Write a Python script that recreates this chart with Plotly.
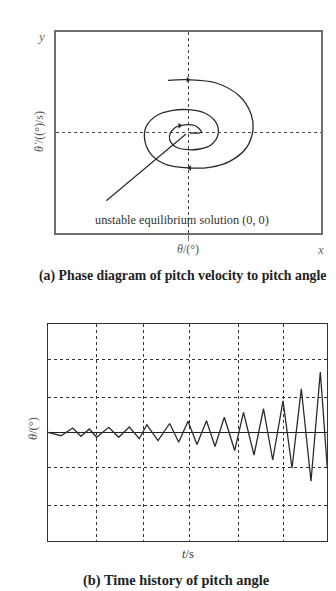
import plotly.graph_objects as go

W, H = 336, 591

# ---- (a) phase diagram: spiral trajectory (theta, theta_dot) ----
spiral_theta = [-20.5, -0.5, 27.8, 51.2, 62.8, 64.5, 57.8, 41.2, 21.2, 1.2, -22.2, -37.2, -43.8,
                -42.2, -30.5, -15.5, -0.5, 16.2, 27.8, 29.5, 22.8, 11.2, -0.5, -12.2, -18.8,
                -18.2, -13.8, -8.8, 6.2, 12.8, 1.5]
spiral_rate = [52.2, 52.8, 49.5, 36.2, 17.8, 2.8, -15.5, -28.8, -34.8, -35.5, -32.2, -22.2, -7.2,
               6.2, 17.8, 22.2, 22.8, 19.5, 9.5, -2.2, -12.2, -16.5, -17.2, -14.8, -7.2,
               -0.5, 4.5, 6.8, 7.0, 0.5, -0.5]
arrow_theta = [-0.5, 1.2, -8.8]
arrow_rate = [52.8, -35.5, 6.8]
arrow_sym = ["triangle-right", "triangle-left", "triangle-right"]
pointer_theta = [-82.2, -2.5]
pointer_rate = [-68.2, -1.5]

# ---- (b) time history of pitch angle ----
t_vals = [0, 13, 24.7, 33, 41.3, 48.7, 60.7, 70.7, 81.3, 91.3, 98.8, 110, 121.7, 130.7, 140,
          149, 158.5, 167, 176.3, 186.7, 195.5, 206, 215.5, 224.7, 235, 244, 253.3, 263,
          272.3, 279.3]
pitch_vals = [0, -3.4, 4.3, -4, 3.3, -5, 5, -5, 5.3, -6.4, 7.6, -8.4, 8.8, -10, 11, -12.2,
              11.6, -14.2, 15, -18.2, 20, -22.7, 23.6, -27.7, 31.5, -35.7, 43.5, -49, 60.3,
              -35.7]
t_grid = [48.3, 95, 141.7, 190, 235]
pitch_grid = [-73.4, -35, 35, 73.3]


def px(x):
    return x / W


def py(y):
    return 1 - y / H


fig = go.Figure()
line_col = "#2b2b2b"
dash = "3px,3px"

fig.add_trace(go.Scatter(x=spiral_theta, y=spiral_rate, mode="lines",
                         line=dict(color=line_col, width=1.3, shape="spline", smoothing=1.0),
                         xaxis="x", yaxis="y", hoverinfo="skip", showlegend=False))
fig.add_trace(go.Scatter(x=pointer_theta, y=pointer_rate, mode="lines",
                         line=dict(color=line_col, width=1.2),
                         xaxis="x", yaxis="y", hoverinfo="skip", showlegend=False))
fig.add_trace(go.Scatter(x=arrow_theta, y=arrow_rate, mode="markers",
                         marker=dict(symbol=arrow_sym, size=5, color=line_col),
                         xaxis="x", yaxis="y", hoverinfo="skip", showlegend=False))
fig.add_trace(go.Scatter(x=t_vals, y=pitch_vals, mode="lines",
                         line=dict(color=line_col, width=1.3),
                         xaxis="x2", yaxis="y2", hoverinfo="skip", showlegend=False))

frame_a = dict(showline=True, mirror=True, linecolor="#6e6e6e", linewidth=1.8,
               showticklabels=False, zeroline=False, fixedrange=True)
frame_b = dict(showline=True, mirror=True, linecolor="#333333", linewidth=1.4,
               showticklabels=False, fixedrange=True)

fig.update_layout(
    width=W, height=H, margin=dict(l=0, r=0, t=0, b=0),
    paper_bgcolor="white", plot_bgcolor="white",
    xaxis=dict(domain=[px(48), px(313)], range=[-132.5, 132.5], tickvals=[0],
               showgrid=True, gridcolor="#444", gridwidth=1, griddash=dash,
               ticks="outside", ticklen=6, tickcolor="#777", tickwidth=1, anchor="y", **frame_a),
    yaxis=dict(domain=[py(225), py(24)], range=[-100.5, 100.5], tickvals=[0],
               showgrid=True, gridcolor="#444", gridwidth=1, griddash=dash,
               ticks="", anchor="x", **frame_a),
    xaxis2=dict(domain=[px(40), px(319.3)], range=[0, 279.3], tickvals=t_grid,
                showgrid=True, gridcolor="#333", gridwidth=1, griddash=dash,
                zeroline=False, ticks="", anchor="y2", **frame_b),
    yaxis2=dict(domain=[py(533.3), py(316)], range=[-109, 108.3], tickvals=pitch_grid,
                showgrid=True, gridcolor="#333", gridwidth=1, griddash=dash,
                zeroline=True, zerolinecolor="#222", zerolinewidth=1.3,
                ticks="", anchor="x2", **frame_b),
)

serif = "Liberation Serif, Times New Roman, serif"
ann = []


def add_text(text, x, y, size, color="#333", angle=0, bold=False):
    t = text
    if bold:
        t = "<b>" + t + "</b>"
    ann.append(dict(text=t, x=px(x), y=py(y), xref="paper", yref="paper",
                    xanchor="center", yanchor="middle", showarrow=False,
                    textangle=angle, font=dict(family=serif, size=size, color=color)))


add_text("<i>y</i>", 33, 29, 13, "#666")
add_text("<i>x</i>", 312, 241, 13, "#666")
add_text("<i>θ</i>/(°)", 180, 241, 12, "#555")
add_text("<i>θ̇</i> /((°)/s)", 31, 124, 12, "#555", angle=-90)
add_text("unstable equilibrium solution (0, 0)", 174, 212, 12.3, "#333")
add_text("(a) Phase diagram of pitch velocity to pitch angle", 174, 268, 13.8, "#222", bold=True)

add_text("<i>θ</i>/(°)", 25, 421, 12.5, "#555", angle=-90)
add_text("<i>t</i>/s", 180, 546, 12.5, "#333")
add_text("(b) Time history of pitch angle", 168, 572, 14.4, "#222", bold=True)

fig.update_layout(annotations=ann)
fig.write_html("out.html")
